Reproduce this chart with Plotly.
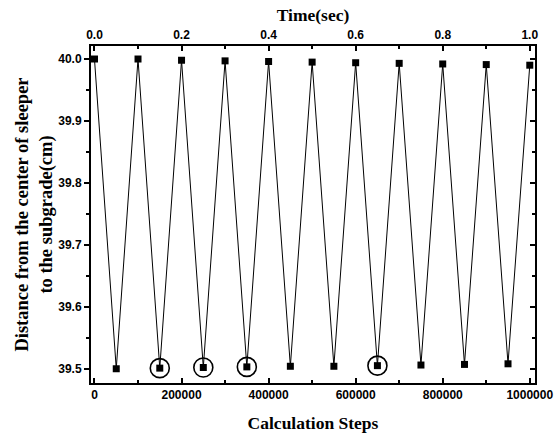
import plotly.graph_objects as go

steps = [0, 50000, 100000, 150000, 200000, 250000, 300000, 350000, 400000, 450000,
         500000, 550000, 600000, 650000, 700000, 750000, 800000, 850000, 900000, 950000, 1000000]
distance = [40.0, 39.500, 40.0, 39.501, 39.998, 39.502, 39.997, 39.503, 39.996, 39.504,
            39.995, 39.504, 39.994, 39.505, 39.993, 39.506, 39.992, 39.507, 39.991, 39.508, 39.990]
circled_steps = [150000, 250000, 350000, 650000]
circled_vals = [distance[steps.index(s)] for s in circled_steps]

time_ticks = [0.0, 0.2, 0.4, 0.6, 0.8, 1.0]
y_ticks = [39.5, 39.6, 39.7, 39.8, 39.9, 40.0]

xr = [-8000, 1012000]
yr = [39.477, 40.021]

fig = go.Figure()
fig.add_trace(go.Scatter(x=steps, y=distance, mode="lines+markers",
                         line=dict(color="black", width=1),
                         marker=dict(symbol="square", size=7, color="black"),
                         showlegend=False))
fig.add_trace(go.Scatter(x=circled_steps, y=circled_vals, mode="markers",
                         marker=dict(symbol="circle-open", size=19, color="black",
                                     line=dict(color="black", width=1.6)),
                         showlegend=False))
# invisible trace to activate top/right axes
fig.add_trace(go.Scatter(x=[0, 1], y=[39.5, 40.0], xaxis="x2", yaxis="y2",
                         mode="markers", marker=dict(opacity=0), showlegend=False,
                         hoverinfo="skip"))

tickfont = dict(family="Liberation Sans", size=12, color="black", weight="bold")
titlefont = dict(family="Liberation Serif", size=17.5, color="black", weight="bold")
ytitlefont = dict(family="Liberation Serif", size=18.5, color="black", weight="bold")

fig.update_layout(
    width=555, height=436,
    margin=dict(l=91, r=20, t=46, b=53),
    paper_bgcolor="white", plot_bgcolor="white",
    xaxis=dict(range=xr, tickvals=[0, 200000, 400000, 600000, 800000, 1000000],
               ticktext=["0", "200000", "400000", "600000", "800000", "1000000"],
               ticks="inside", ticklen=5, tickwidth=1.5, tickcolor="black",
               minor=dict(tickvals=[100000, 300000, 500000, 700000, 900000],
                          ticks="inside", ticklen=3, tickcolor="black"),
               showline=True, linecolor="black", linewidth=2, showgrid=False, zeroline=False,
               tickfont=tickfont, automargin=False,
               title=dict(text="Calculation Steps", font=titlefont, standoff=15)),
    xaxis2=dict(range=[xr[0] / 1e6, xr[1] / 1e6], overlaying="x", side="top",
                tickvals=time_ticks, ticktext=["0.0", "0.2", "0.4", "0.6", "0.8", "1.0"],
                ticks="inside", ticklen=5, tickwidth=1.5, tickcolor="black",
                minor=dict(tickvals=[0.1, 0.3, 0.5, 0.7, 0.9], ticks="inside",
                           ticklen=3, tickcolor="black"),
                showline=True, linecolor="black", linewidth=2, showgrid=False, zeroline=False,
                tickfont=tickfont, automargin=False,
                title=dict(text="Time(sec)", font=titlefont, standoff=2)),
    yaxis=dict(range=yr, tickvals=y_ticks, ticktext=["39.5", "39.6", "39.7", "39.8", "39.9", "40.0"],
               ticks="outside", ticklen=5, tickwidth=1.5, tickcolor="black",
               minor=dict(tickvals=[39.55, 39.65, 39.75, 39.85, 39.95], ticks="outside",
                          ticklen=3, tickcolor="black"),
               showline=True, linecolor="black", linewidth=2, showgrid=False, zeroline=False,
               tickfont=tickfont, automargin=False,
               title=dict(text="Distance from the center of sleeper<br>to the subgrade(cm)",
                          font=ytitlefont, standoff=1)),
    yaxis2=dict(range=yr, overlaying="y", side="right", tickvals=y_ticks,
                showticklabels=False, ticks="inside", ticklen=5, tickwidth=1.5,
                tickcolor="black", automargin=False,
                minor=dict(tickvals=[39.55, 39.65, 39.75, 39.85, 39.95], ticks="inside",
                           ticklen=3, tickcolor="black"),
                showline=True, linecolor="black", linewidth=2, showgrid=False, zeroline=False),
)

fig.write_html("out.html", config={"displayModeBar": False},
               post_script="document.body.style.margin='0';")
